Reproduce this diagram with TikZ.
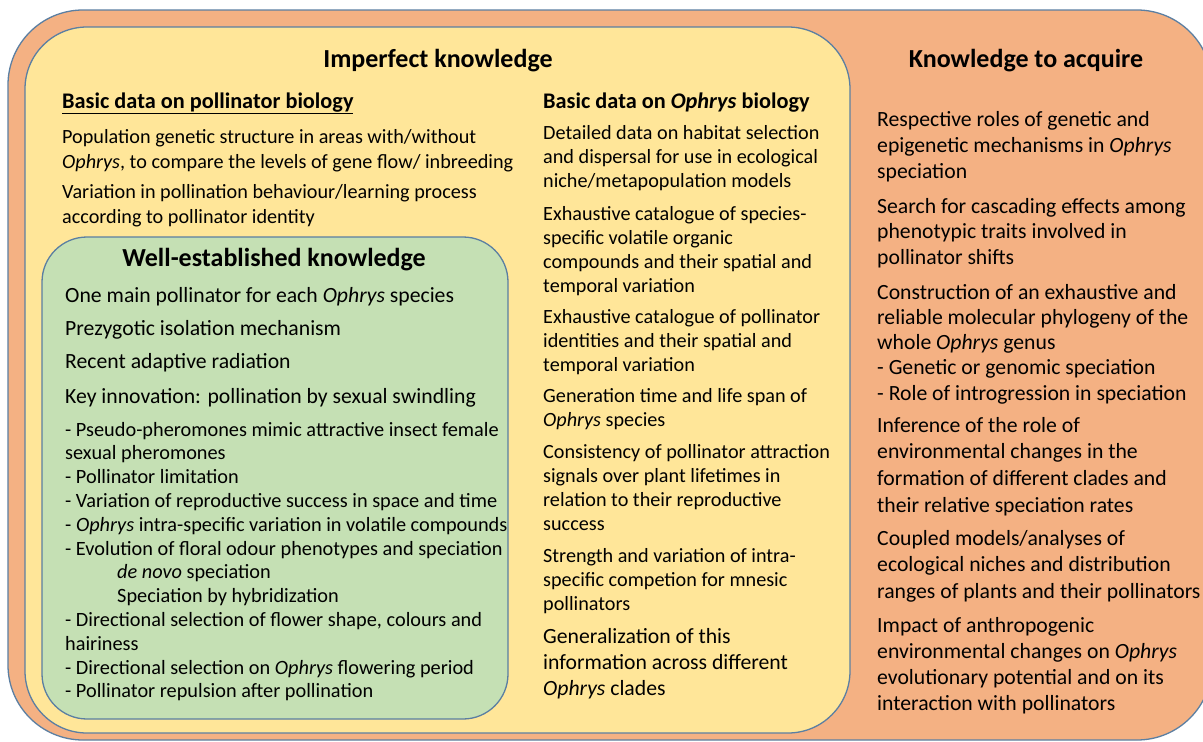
\documentclass[tikz,border=0pt]{standalone}
\usepackage{fontspec}
\setmainfont{Carlito}
\definecolor{outerfill}{HTML}{F4B183}
\definecolor{yellowfill}{HTML}{FFE699}
\definecolor{greenfill}{HTML}{C5E0B4}
\definecolor{edgeblue}{HTML}{5B7FA2}
\newcommand{\lineblock}[1]{\begin{tabular}[t]{@{}l@{}}#1\end{tabular}}
\begin{document}
\begin{tikzpicture}[x=1pt,y=-1pt,
  panel/.style={draw=edgeblue, line width=1.3pt},
  title/.style={anchor=base, inner sep=0pt, font=\fontsize{26}{30}\selectfont\bfseries},
  subtitle/.style={anchor=base west, inner sep=0pt, font=\fontsize{22.3}{26}\selectfont\bfseries},
  body/.style={anchor=base west, inner sep=0pt, font=\fontsize{20.2}{24.3}\selectfont},
  bodyr/.style={anchor=base west, inner sep=0pt, font=\fontsize{21.7}{26}\selectfont},
  bodyg/.style={anchor=base west, inner sep=0pt, font=\fontsize{20.3}{23.8}\selectfont}]
\useasboundingbox (0,0) rectangle (1203,742);
\fill[white] (0,0) rectangle (1203,742);
% panels
\draw[panel, fill=outerfill, rounded corners=75pt] (8,10) rectangle (1212,740);
\draw[panel, fill=yellowfill, rounded corners=62pt] (25,27) rectangle (850,733);
\draw[panel, fill=greenfill, rounded corners=45pt] (42,237) rectangle (508,719);
% titles
\node[title] (timp) at (438,67) {Imperfect knowledge};
\node[title] (tacq) at (1026,67) {Knowledge to acquire};
\node[title] (twell) at (274,266) {Well-established knowledge};
\node[subtitle] (spol) at (62,108) {\underline{Basic data on pollinator biology}};
\node[subtitle] (soph) at (543,108) {Basic data on \textit{Ophrys} biology};
% left column (pollinator biology)
\node[body, font=\fontsize{20.2}{25}\selectfont] (l1) at (62,143) {\lineblock{Population genetic structure in areas with/without\\\textit{Ophrys}, to compare the levels of gene flow/ inbreeding}};
\node[body, font=\fontsize{20.2}{25}\selectfont] (l2) at (62,198) {\lineblock{Variation in pollination behaviour/learning process\\according to pollinator identity}};
% middle column (Ophrys biology)
\node[body] (m1) at (543,139) {\lineblock{Detailed data on habitat selection\\and dispersal for use in ecological\\niche/metapopulation models}};
\node[body] (m2) at (543,220) {\lineblock{Exhaustive catalogue of species-\\specific volatile organic\\compounds and their spatial and\\temporal variation}};
\node[body] (m3) at (543,323) {\lineblock{Exhaustive catalogue of pollinator\\identities and their spatial and\\temporal variation}};
\node[body] (m4) at (543,402) {\lineblock{Generation time and life span of\\\textit{Ophrys} species}};
\node[body] (m5) at (543,458) {\lineblock{Consistency of pollinator attraction\\signals over plant lifetimes in\\relation to their reproductive\\success}};
\node[body] (m6) at (543,562) {\lineblock{Strength and variation of intra-\\specific competion for mnesic\\pollinators}};
\node[bodyr] (m7) at (543,643) {\lineblock{Generalization of this\\information across different\\\textit{Ophrys} clades}};
% right column (knowledge to acquire)
\node[bodyr] (r1) at (877,126) {\lineblock{Respective roles of genetic and\\epigenetic mechanisms in \textit{Ophrys}\\speciation}};
\node[bodyr, font=\fontsize{21.7}{25.5}\selectfont] (r2) at (877,213) {\lineblock{Search for cascading effects among\\phenotypic traits involved in\\pollinator shifts}};
\node[bodyr, font=\fontsize{21.7}{25.3}\selectfont] (r3) at (877,299) {\lineblock{Construction of an exhaustive and\\reliable molecular phylogeny of the\\whole \textit{Ophrys} genus\\- Genetic or genomic speciation\\- Role of introgression in speciation}};
\node[bodyr, font=\fontsize{21.7}{26.7}\selectfont] (r4) at (877,432) {\lineblock{Inference of the role of\\environmental changes in the\\formation of different clades and\\their relative speciation rates}};
\node[bodyr, font=\fontsize{21.7}{26.5}\selectfont] (r5) at (877,545) {\lineblock{Coupled models/analyses of\\ecological niches and distribution\\ranges of plants and their pollinators}};
\node[bodyr, font=\fontsize{21.7}{26.3}\selectfont] (r6) at (877,632) {\lineblock{Impact of anthropogenic\\environmental changes on \textit{Ophrys}\\evolutionary potential and on its\\interaction with pollinators}};
% green box
\node[bodyr] (g1) at (65,302) {One main pollinator for each \textit{Ophrys} species};
\node[bodyr] (g2) at (65,335) {Prezygotic isolation mechanism};
\node[bodyr] (g3) at (65,368) {Recent adaptive radiation};
\node[bodyr] (g4) at (65,403) {Key innovation: pollination by sexual swindling};
\node[bodyg] (g5) at (65,436) {\lineblock{- Pseudo-pheromones mimic attractive insect female\\sexual pheromones\\- Pollinator limitation\\- Variation of reproductive success in space and time\\- \textit{Ophrys} intra-specific variation in volatile compounds\\- Evolution of floral odour phenotypes and speciation\\\hspace*{52pt}\textit{de novo} speciation\\\hspace*{52pt}Speciation by hybridization\\- Directional selection of flower shape, colours and\\hairiness\\- Directional selection on \textit{Ophrys} flowering period\\- Pollinator repulsion after pollination}};
\end{tikzpicture}
\end{document}
